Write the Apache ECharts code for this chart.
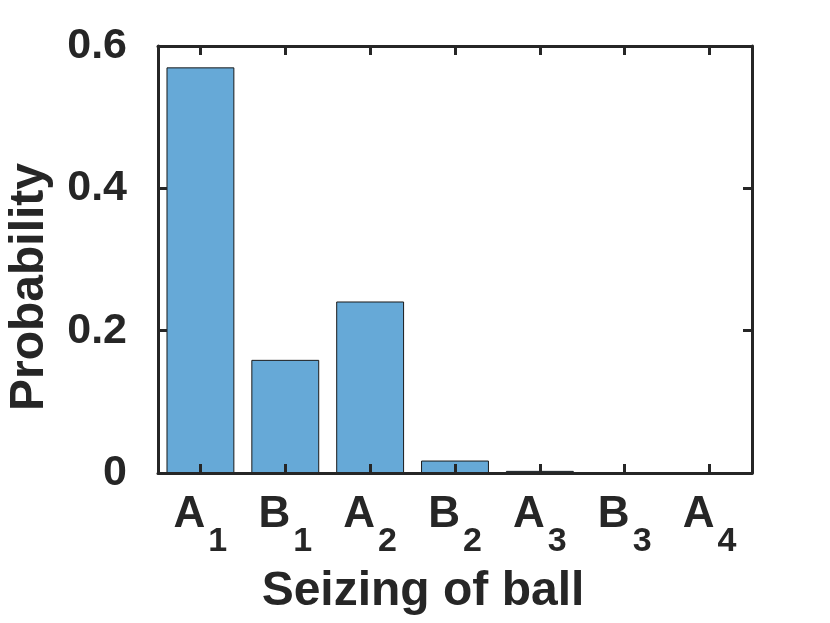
<!DOCTYPE html>
<html>
<head>
<meta charset="utf-8">
<script src="https://cdn.jsdelivr.net/npm/echarts@6/dist/echarts.min.js"></script>
<style>
  html, body { margin: 0; padding: 0; background: #fff; }
  #chart { width: 830px; height: 623px; }
</style>
</head>
<body>
<div id="chart"></div>
<script>
// categories (letter + subscript) and bar values
const catLetters = ['A', 'B', 'A', 'B', 'A', 'B', 'A']
const catIndex = ['1', '1', '2', '2', '3', '3', '4']
const probability = [0.570, 0.159, 0.241, 0.0175, 0.003, 0.0003, 0]
const yTicks = [0, 0.2, 0.4, 0.6]

const categories = catLetters.map((c, i) => c + catIndex[i])
const axisColor = '#262626'
const font = '"Liberation Sans", Arial, Helvetica, sans-serif'

// plot box, in pixels
const gridLeft = 158, gridRight = 78, gridTop = 46, gridBottom = 150
const plotW = 830 - gridLeft - gridRight
const plotH = 623 - gridTop - gridBottom

const chart = echarts.init(document.getElementById('chart'))

function ticks(extra) {
  return Object.assign({ show: true, inside: true, length: 9, lineStyle: { color: axisColor, width: 3 } }, extra || {})
}

const option = {
  animation: false,
  backgroundColor: '#fff',
  grid: { left: gridLeft, right: gridRight, top: gridTop, bottom: gridBottom },
  xAxis: [
    {
      type: 'category',
      data: categories,
      position: 'bottom',
      z: 5,
      axisLine: { onZero: false, lineStyle: { color: axisColor, width: 3 } },
      axisTick: ticks({ alignWithLabel: true, interval: 0 }),
      axisLabel: {
        margin: 20,
        interval: 0,
        formatter: (v, i) => '{m|' + catLetters[i] + '}{s|' + catIndex[i] + '}',
        rich: {
          m: { fontSize: 44, lineHeight: 44, fontWeight: 'bold', fontFamily: font, color: axisColor, verticalAlign: 'top' },
          s: { fontSize: 34, lineHeight: 34, fontWeight: 'bold', fontFamily: font, color: axisColor, verticalAlign: 'top', padding: [32, 0, 0, 3] }
        }
      }
    },
    {
      // top box edge
      type: 'category',
      data: categories,
      position: 'top',
      z: 5,
      axisLine: { onZero: false, lineStyle: { color: axisColor, width: 3 } },
      axisTick: { show: false },
      axisLabel: { show: false }
    },
    {
      // top ticks: a bottom axis moved up to the top edge, ticks pointing down into the box
      type: 'category',
      data: categories,
      position: 'bottom',
      offset: -plotH,
      z: 5,
      axisLine: { show: false, onZero: false },
      axisTick: ticks({ inside: false, alignWithLabel: true, interval: 0 }),
      axisLabel: { show: false }
    }
  ],
  yAxis: [
    {
      type: 'value',
      min: yTicks[0],
      max: yTicks[yTicks.length - 1],
      interval: 0.2,
      position: 'left',
      z: 5,
      splitLine: { show: false },
      axisLine: { show: true, onZero: false, lineStyle: { color: axisColor, width: 3 } },
      axisTick: { show: false },
      axisLabel: { margin: 31, fontSize: 43, fontWeight: 'bold', fontFamily: font, color: axisColor }
    },
    {
      type: 'value',
      min: yTicks[0],
      max: yTicks[yTicks.length - 1],
      interval: 0.2,
      position: 'right',
      z: 5,
      splitLine: { show: false },
      axisLine: { show: true, onZero: false, lineStyle: { color: axisColor, width: 3 } },
      axisTick: ticks(),
      axisLabel: { show: false }
    },
    {
      // left ticks: a right axis moved to the left edge, ticks pointing right into the box
      type: 'value',
      min: yTicks[0],
      max: yTicks[yTicks.length - 1],
      interval: 0.2,
      position: 'right',
      offset: -plotW,
      z: 5,
      splitLine: { show: false },
      axisLine: { show: false, onZero: false },
      axisTick: ticks({ inside: false }),
      axisLabel: { show: false }
    }
  ],
  graphic: [
    {
      type: 'text',
      x: 30, y: 287,
      rotation: Math.PI / 2,
      style: { text: 'Probability', fontSize: 48, fontWeight: 'bold', fontFamily: font, fill: axisColor, align: 'center', verticalAlign: 'middle' }
    },
    {
      type: 'text',
      x: 423, y: 592,
      style: { text: 'Seizing of ball', fontSize: 48, fontWeight: 'bold', fontFamily: font, fill: axisColor, align: 'center', verticalAlign: 'middle' }
    }
  ],
  series: [
    {
      type: 'bar',
      data: probability,
      barWidth: '80%',
      z: 1,
      itemStyle: { color: '#66a9d7', borderColor: '#1a1a1a', borderWidth: 1 }
    }
  ]
}

chart.setOption(option)
</script>
</body>
</html>
